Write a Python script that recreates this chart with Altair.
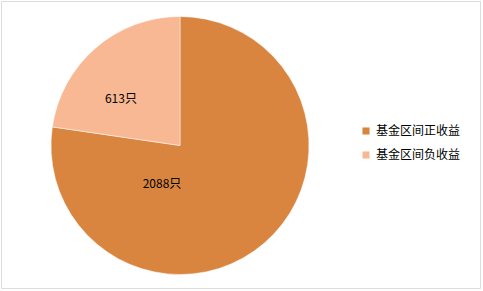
import altair as alt
import pandas as pd

categories = ["基金区间正收益", "基金区间负收益"]
values = [2088, 613]
labels = ["2088只", "613只"]
colors = ["#D9853F", "#F8B893"]

df = pd.DataFrame({"cat": categories, "val": values, "label": labels, "order": [0, 1]})
total = sum(values)

pie = alt.Chart(df).mark_arc(outerRadius=129, stroke="white", strokeWidth=0.5).encode(
    theta=alt.Theta("val:Q", stack=True),
    order=alt.Order("order:Q"),
    x=alt.value(179),
    y=alt.value(144.5),
    color=alt.Color(
        "cat:N",
        scale=alt.Scale(domain=categories, range=colors),
        sort=categories,
        legend=alt.Legend(
            title=None,
            orient="none",
            legendX=359,
            legendY=124,
            symbolType="square",
            symbolSize=50,
            labelFontSize=12,
            labelFont="Noto Sans CJK SC",
            labelColor="#000000",
            rowPadding=12,
            symbolStrokeWidth=0,
        ),
    ),
)


def label_layer(sel, radius, dx, dy):
    return alt.Chart(df).transform_stack(
        stack="val", groupby=[], as_=["v0", "v1"], sort=[alt.SortField("order")]
    ).transform_calculate(
        mid="(datum.v0 + datum.v1) / 2"
    ).transform_filter(alt.datum.order == sel).mark_text(
        radius=radius, fontSize=12, font="Noto Sans CJK SC", color="#000000", dx=dx, dy=dy
    ).encode(
        theta=alt.Theta("mid:Q", scale=alt.Scale(domain=[0, total])),
        x=alt.value(179),
        y=alt.value(144.5),
        text="label:N",
    )


chart = alt.layer(
    pie, label_layer(0, 52, -52, -1), label_layer(1, 75, -10, 10)
).resolve_scale(theta="independent").properties(
    width=479, height=287, padding={"left": 1, "top": 1, "right": 3, "bottom": 3},
    autosize="none",
).configure_view(stroke="#878787", strokeWidth=1.5).configure(background="white")

chart.save("out.html", embed_options={"renderer": "svg", "actions": False})
